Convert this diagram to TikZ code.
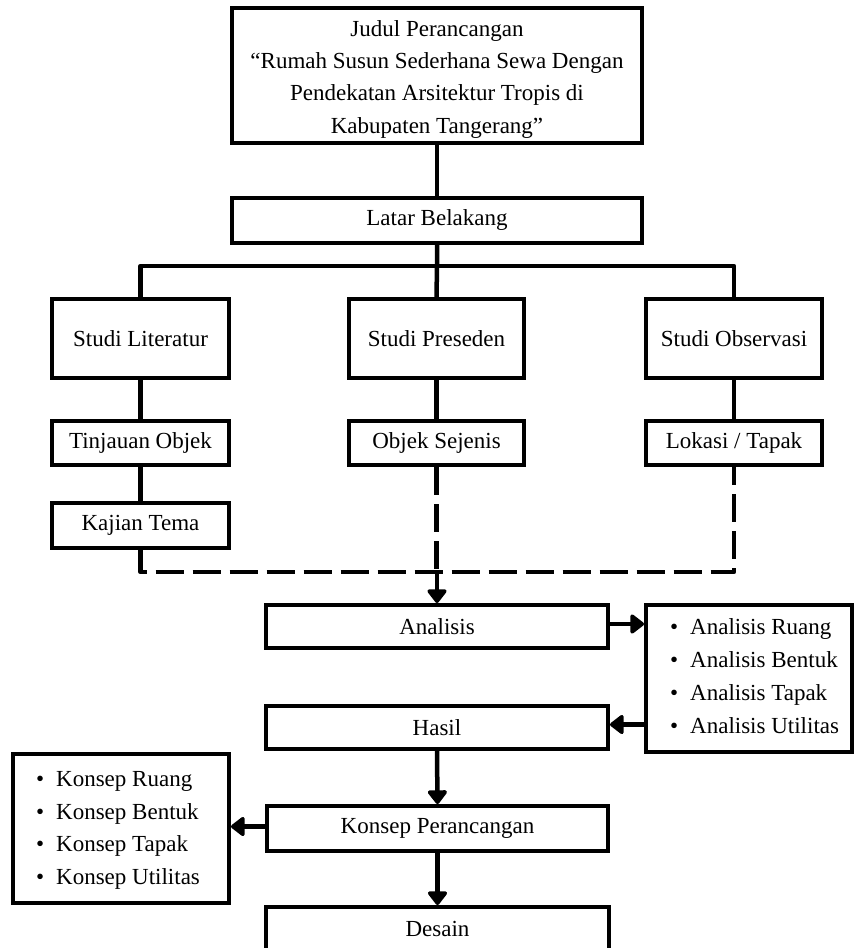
\documentclass[tikz,border=0pt]{standalone}
\usepackage{fontspec}
\setmainfont{Liberation Serif}
\usetikzlibrary{arrows.meta}
\begin{document}
\begin{tikzpicture}[x=1pt,y=-1pt,
  box/.style={draw, line width=4pt, inner sep=2pt, font=\fontsize{23}{33}\selectfont, align=center},
  txt/.style={inner sep=0pt, font=\fontsize{23}{32.3}\selectfont},
  conn/.style={line width=4.5pt, line join=round},
  dconn/.style={line width=4.5pt, line join=round, dash pattern=on 28pt off 9pt},
  arr/.style={line width=4.5pt, -{Triangle[length=15pt,width=22pt,round]}},
  bul/.style={},
]
\newcommand{\bitem}{\makebox[20pt][l]{\textbullet}}
\useasboundingbox (0,0) rectangle (854,948);
\fill[white] (0,0) rectangle (854,948);

\node[box, minimum width=410pt, minimum height=135pt] (judul) at (437,75.5) {};
\node[txt, align=center] (judultext) at (437,79.2)
  {Judul Perancangan\\“Rumah Susun Sederhana Sewa Dengan\\Pendekatan Arsitektur Tropis di\\Kabupaten Tangerang”};
\node[box, minimum width=410pt, minimum height=45pt] (latar) at (437,220) {Latar Belakang};

\node[box, minimum width=177pt, minimum height=79pt] (lit) at (140.5,338.5) {Studi Literatur};
\node[box, minimum width=175pt, minimum height=79pt] (pre) at (436.5,338.5) {Studi Preseden};
\node[box, minimum width=176pt, minimum height=79pt] (obs) at (734,338.5) {Studi Observasi};

\node[box, minimum width=177pt, minimum height=44pt] (tin) at (140.5,443) {Tinjauan Objek};
\node[box, minimum width=175pt, minimum height=44pt] (obj) at (436.5,443) {Objek Sejenis};
\node[box, minimum width=176pt, minimum height=44pt] (lok) at (734,443) {Lokasi / Tapak};
\node[box, minimum width=177pt, minimum height=45pt] (kaj) at (140.5,525.5) {Kajian Tema};

\node[box, minimum width=342pt, minimum height=43pt] (ana) at (437,626.5) {Analisis};
\node[box, minimum width=206pt, minimum height=147pt] (alist) at (749,678.5) {};
\node[txt, align=left, font=\fontsize{23}{33}\selectfont, anchor=west] (alisttext) at (670,676.3)
  {\bitem Analisis Ruang\\ \bitem Analisis Bentuk\\ \bitem Analisis Tapak\\ \bitem Analisis Utilitas};
\node[box, minimum width=342pt, minimum height=43pt] (has) at (437,727.5) {Hasil};
\node[box, minimum width=341pt, minimum height=45pt] (kon) at (437.5,828.5) {Konsep Perancangan};
\node[box, minimum width=216pt, minimum height=149pt] (klist) at (121,828.5) {};
\node[txt, align=left, font=\fontsize{23}{32.7}\selectfont, anchor=west] (klisttext) at (36,830.4)
  {\bitem Konsep Ruang\\ \bitem Konsep Bentuk\\ \bitem Konsep Tapak\\ \bitem Konsep Utilitas};
\node[box, minimum width=343pt, minimum height=43pt] (des) at (437.5,928.5) {Desain};

\coordinate (bus) at (437,266);
\coordinate (j) at (437,572);

\draw[conn] (judul.south) -- (latar.north);
\draw[conn] (latar.south) -- (bus) -- (pre.north);
\draw[conn] (lit.north) |- (bus) -| (obs.north);
\draw[conn] (lit.south) -- (tin.north);
\draw[conn] (tin.south) -- (kaj.north);
\draw[conn] (pre.south) -- (obj.north);
\draw[conn] (obs.south) -- (lok.north);

\draw[dconn] (kaj.south) |- (j) -| (lok.south);
\draw[dconn] (obj.south) -- (obj.south |- j);
\draw[arr] (j) -- (ana.north);

\draw[arr] ([yshift=2.5pt]ana.east) -- ([yshift=2.5pt]ana.east -| alist.west);
\draw[arr] ([yshift=3pt]has.east -| alist.west) -- ([yshift=3pt]has.east);
\draw[arr] (has.south) -- (kon.north);
\draw[arr] ([yshift=2pt]kon.west) -- ([yshift=2pt]kon.west -| klist.east);
\draw[arr] (kon.south) -- (des.north);
\end{tikzpicture}
\end{document}
